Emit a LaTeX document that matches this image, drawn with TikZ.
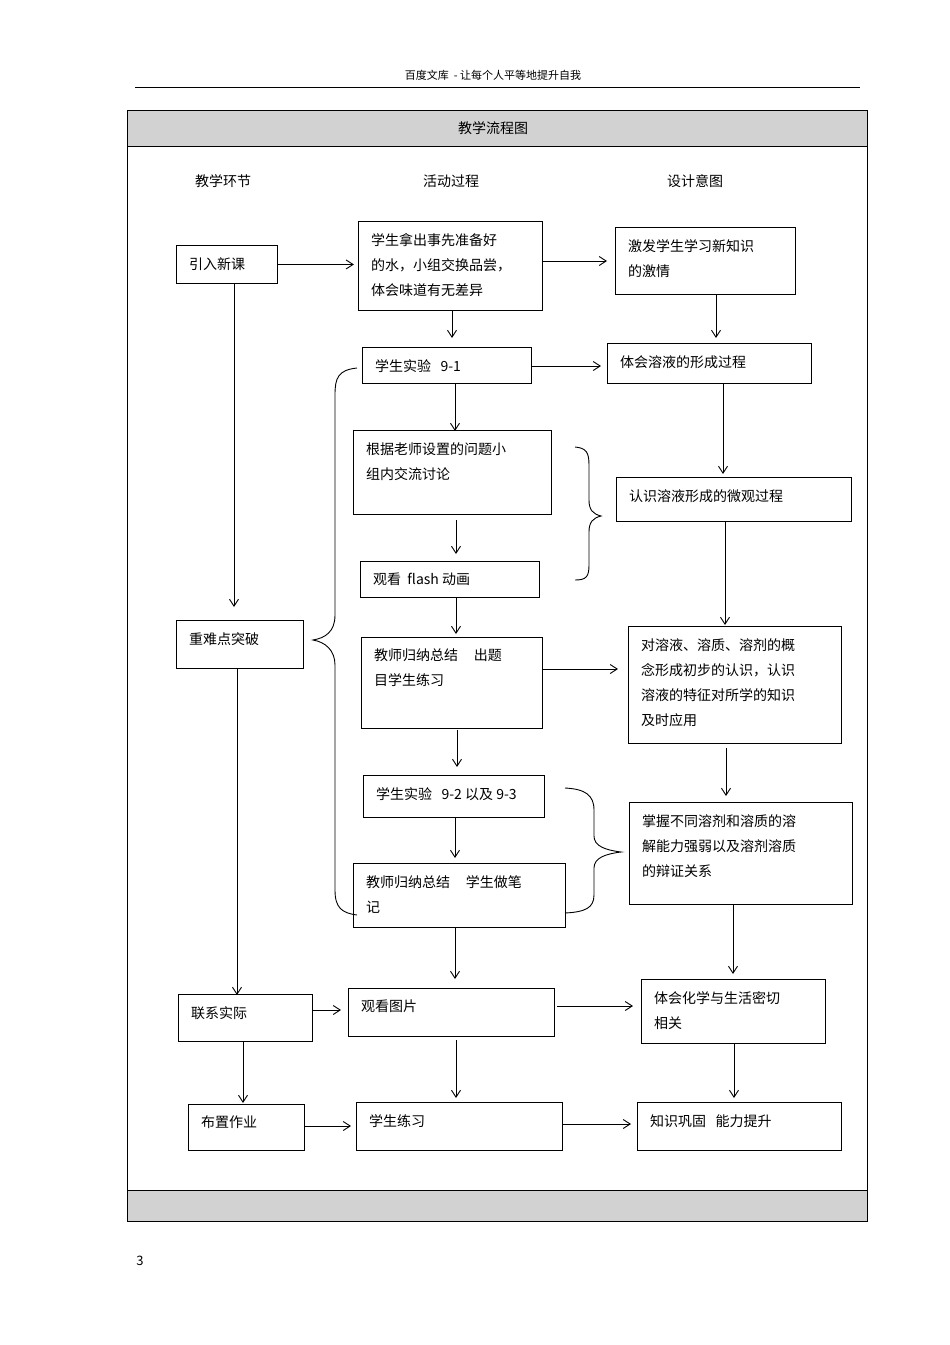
\documentclass[tikz,border=0pt]{standalone}
\usepackage{fontspec}
\setmainfont{Noto Sans CJK SC}
\usetikzlibrary{arrows.meta}
\tikzset{
 bx/.style={draw,line width=0.9pt,anchor=north west,inner sep=0pt},
 tx/.style={anchor=north west,align=left,font=\fontsize{14}{25}\selectfont,inner sep=0pt},
 ar/.style={-{Straight Barb[length=7pt,width=9pt]},line width=0.9pt},
 br/.style={line width=0.9pt}
}
\newcommand{\bx}[6]{%
 \node[bx,minimum width={#4-#2},minimum height={#5-#3}] (#1) at (#2,#3) {};
 \node[tx] (#1t) at (#2+13,#3+12) {#6};}
\begin{document}
\begin{tikzpicture}[x=1pt,y=-1pt]
\useasboundingbox (0,0) rectangle (950,1345);
\node[font=\fontsize{11}{13}\selectfont] (hd) at (493,75) {百度文库\ \ -\ 让每个人平等地提升自我};
\draw[line width=0.6pt] (135,87) -- (860,87);
\fill[gray!35] (127,110) rectangle (867,146);
\fill[gray!35] (127,1190) rectangle (867,1221);
\draw[line width=0.8pt] (127,110) rectangle (867,1221);
\draw[line width=0.8pt] (127,146) -- (867,146) (127,1190) -- (867,1190);
\node[font=\fontsize{14}{16}\selectfont] (ti) at (493,128) {教学流程图};
\node[font=\fontsize{14}{16}\selectfont] (h1) at (223,181) {教学环节};
\node[font=\fontsize{14}{16}\selectfont] (h2) at (451,181) {活动过程};
\node[font=\fontsize{14}{16}\selectfont] (h3) at (695,181) {设计意图};
\node[font=\fontsize{13}{15}\selectfont] (pg) at (140,1261) {3};
\bx{A1}{176}{245}{277}{283}{引入新课}
\bx{B1}{358}{221}{542}{310}{学生拿出事先准备好\\的水，小组交换品尝，\\体会味道有无差异}
\bx{C1}{615}{227}{795}{294}{激发学生学习新知识\\的激情}
\bx{B2}{362}{347}{531}{383}{学生实验\ \ \ 9-1}
\bx{C2}{607}{343}{811}{383}{体会溶液的形成过程}
\bx{B3}{353}{430}{551}{514}{根据老师设置的问题小\\组内交流讨论}
\bx{C3}{616}{477}{851}{521}{认识溶液形成的微观过程}
\bx{B4}{360}{561}{539}{597}{观看\ \ flash 动画}
\bx{A2}{176}{620}{303}{668}{重难点突破}
\bx{B5}{361}{637}{542}{728}{教师归纳总结\ \ \ \ \ 出题\\目学生练习}
\bx{C4}{628}{626}{841}{743}{对溶液、溶质、溶剂的概\\念形成初步的认识，认识\\溶液的特征对所学的知识\\及时应用}
\bx{B6}{363}{775}{544}{817}{学生实验\ \ \ 9-2 以及\ 9-3}
\bx{C5}{629}{802}{852}{904}{掌握不同溶剂和溶质的溶\\解能力强弱以及溶剂溶质\\的辩证关系}
\bx{B7}{353}{863}{565}{927}{教师归纳总结\ \ \ \ \ 学生做笔\\记}
\bx{A3}{178}{994}{312}{1041}{联系实际}
\bx{B8}{348}{988}{554}{1036}{观看图片}
\bx{C6}{641}{979}{825}{1043}{体会化学与生活密切\\相关}
\bx{A4}{188}{1104}{304}{1150}{布置作业}
\bx{B9}{356}{1102}{562}{1150}{学生练习}
\bx{C7}{637}{1102}{841}{1150}{知识巩固\ \ \ 能力提升}
\draw[ar] (A1.east) -- ++(76,0);
\draw[ar] (B1.east |- 0,261) -- (607,261);
\draw[ar] (234,283) -- (234,607);
\draw[ar] (452,310) -- (452,338);
\draw[ar] (B2.east |- 0,366) -- (601,366);
\draw[ar] (716,294) -- (716,338);
\draw[ar] (455,383) -- (455,431);
\draw[ar] (723,383) -- (723,474);
\draw[ar] (456,520) -- (456,554);
\draw[ar] (725,521) -- (725,625);
\draw[ar] (456,597) -- (456,634);
\draw[ar] (542,669) -- (618,669);
\draw[ar] (457,730) -- (457,767);
\draw[ar] (726,748) -- (726,796);
\draw[ar] (455,817) -- (455,858);
\draw[ar] (237,668) -- (237,995);
\draw[ar] (455,927) -- (455,979);
\draw[ar] (733,904) -- (733,974);
\draw[ar] (312,1010) -- (341,1010);
\draw[ar] (557,1006) -- (633,1006);
\draw[ar] (243,1041) -- (243,1103);
\draw[ar] (456,1040) -- (456,1098);
\draw[ar] (734,1043) -- (734,1098);
\draw[ar] (304,1126) -- (351,1126);
\draw[ar] (562,1124) -- (631,1124);
% braces
\draw[br] (357,368) .. controls (338,370) and (335,378) .. (335,395) -- (335,615) .. controls (335,632) and (325,638) .. (313,640) .. controls (325,642) and (335,650) .. (335,665) -- (335,890) .. controls (335,908) and (342,913) .. (357,915);
\draw[br] (575,447) .. controls (586,448) and (589,452) .. (589,465) -- (589,500) .. controls (589,510) and (593,514) .. (601,516) .. controls (593,518) and (589,522) .. (589,532) -- (589,565) .. controls (589,577) and (586,580) .. (575,580);
\draw[br] (565,788) .. controls (585,789) and (594,795) .. (594,810) -- (594,836) .. controls (594,846) and (605,850) .. (621,852) .. controls (605,854) and (594,858) .. (594,868) -- (594,895) .. controls (594,908) and (585,912) .. (565,913);
\end{tikzpicture}
\end{document}
